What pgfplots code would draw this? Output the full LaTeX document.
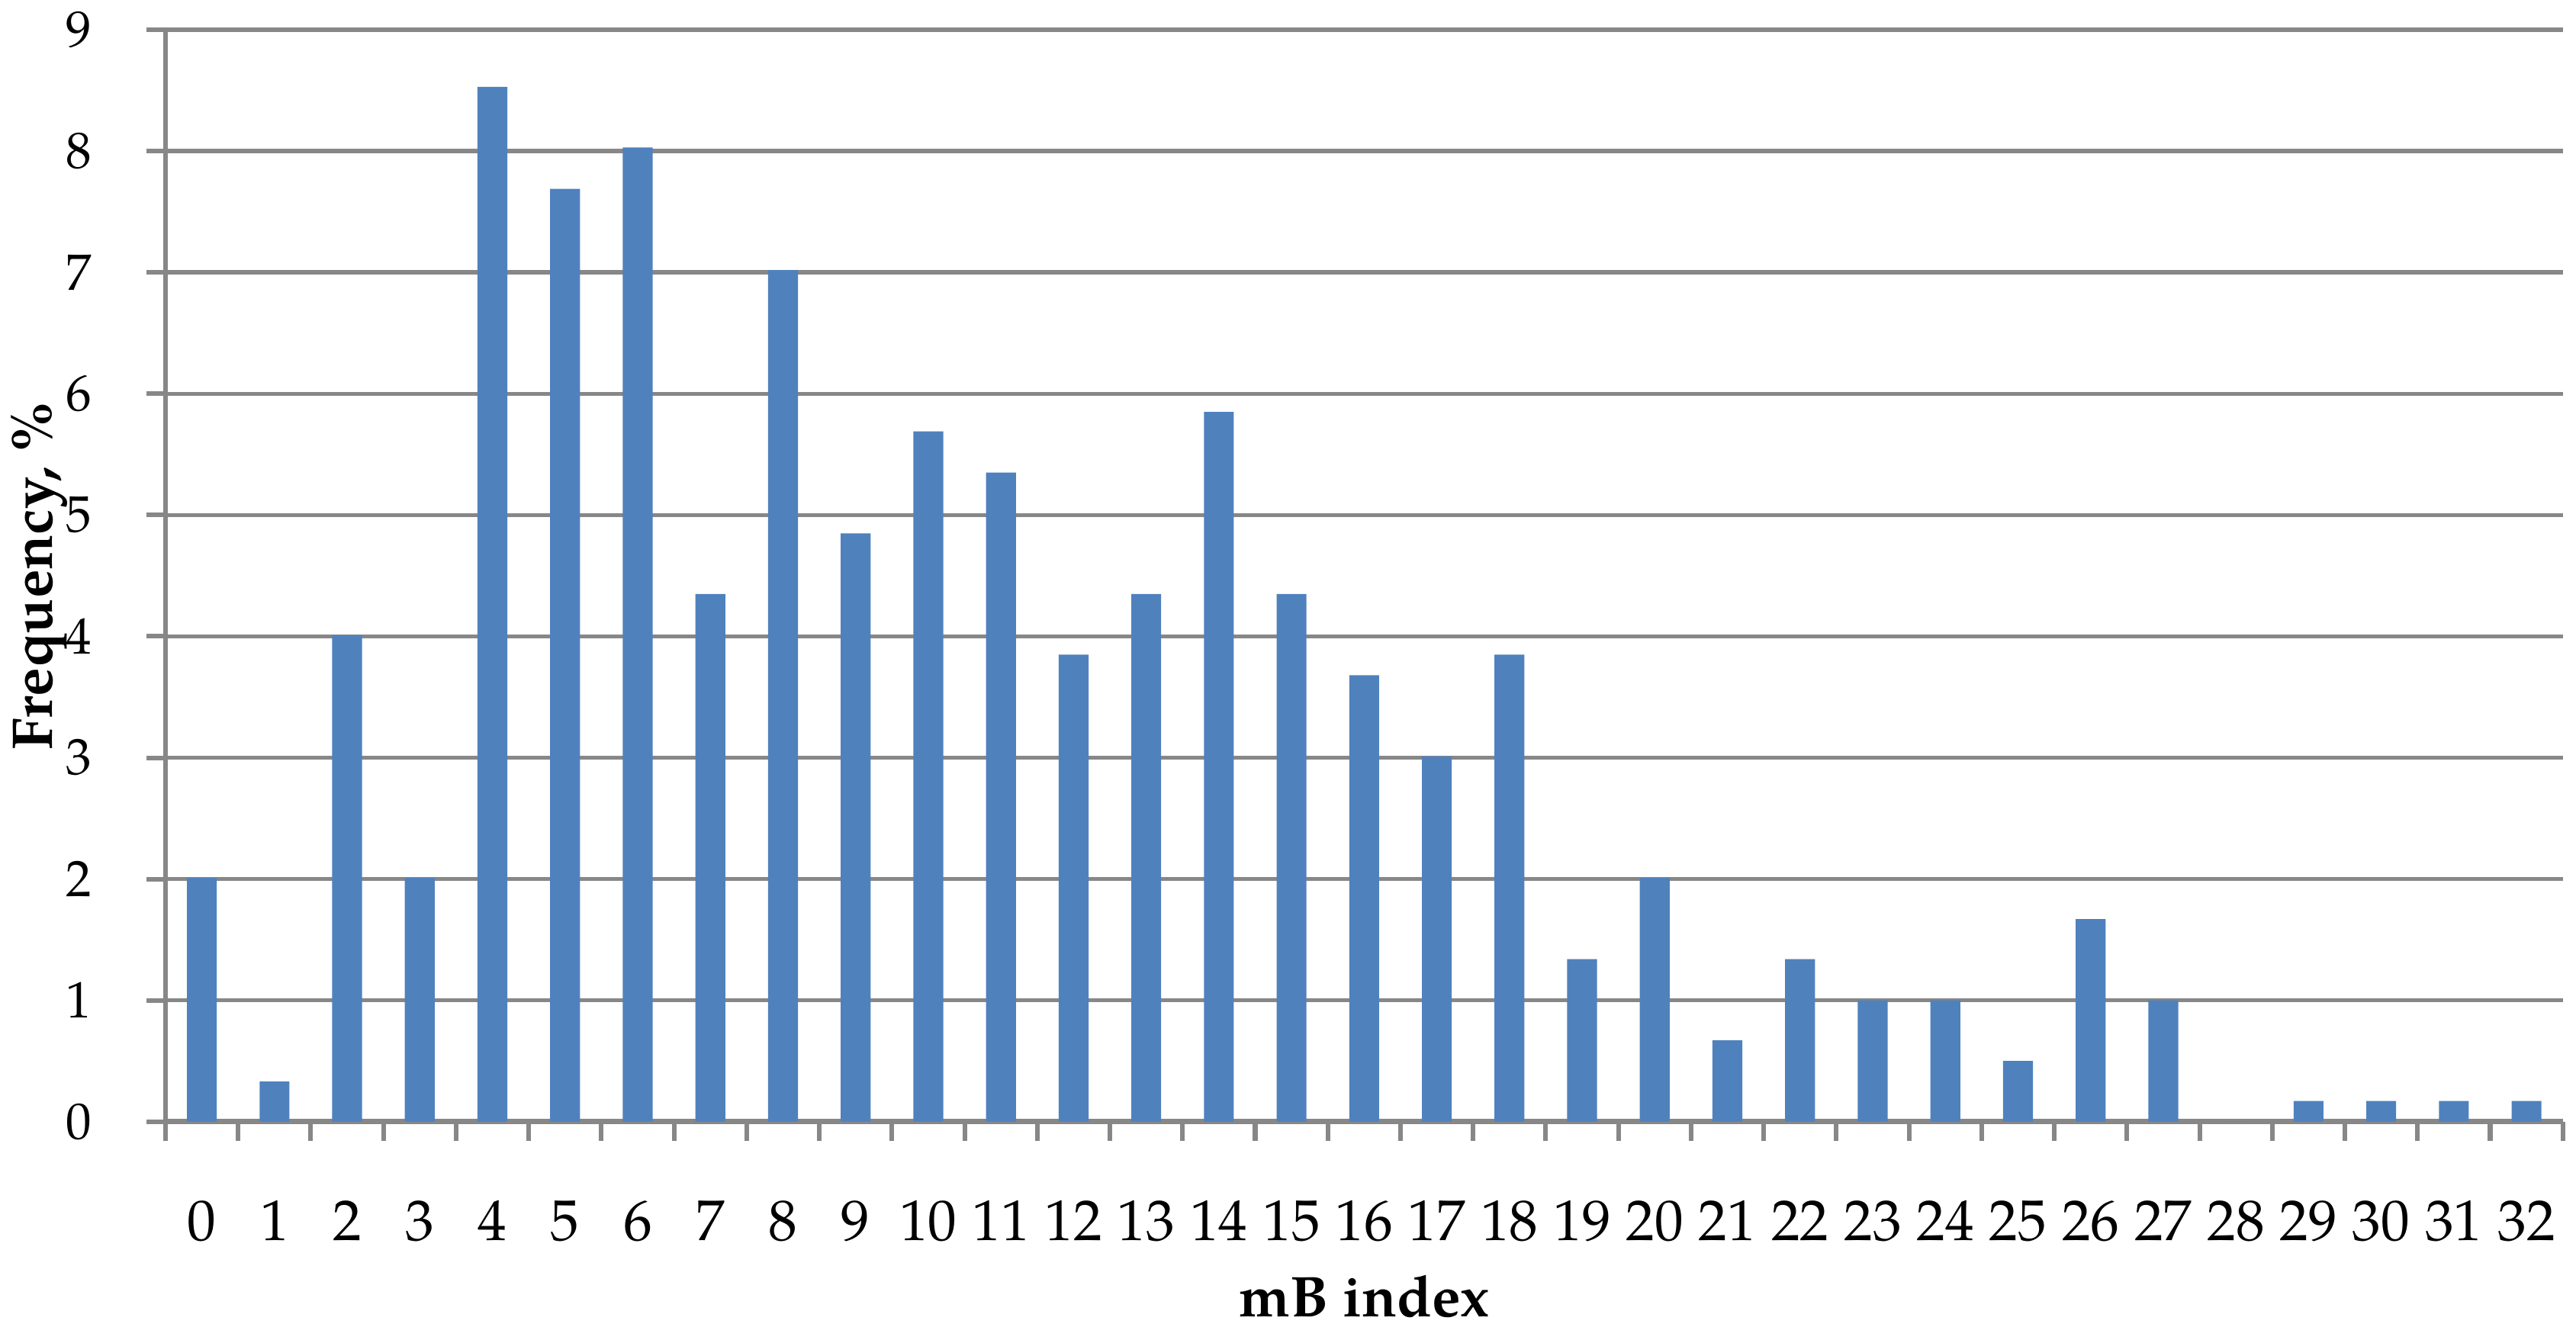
\documentclass[border=0pt]{standalone}
\usepackage{fontspec}
\setmainfont{TeX Gyre Pagella}
\usepackage{pgfplots}
\pgfplotsset{compat=1.18}
\definecolor{barblue}{HTML}{4F81BD}
\definecolor{gridgray}{HTML}{878787}
\begin{document}
\begin{tikzpicture}
\begin{axis}[
  scale only axis,
  width=417.1pt, height=190pt,
  xmin=-0.5, xmax=32.5, ymin=0, ymax=9,
  axis lines*=left,
  axis line style={gridgray, line width=0.9pt},
  xtick={-0.5,0.5,1.5,2.5,3.5,4.5,5.5,6.5,7.5,8.5,9.5,10.5,11.5,12.5,13.5,14.5,15.5,16.5,17.5,18.5,19.5,20.5,21.5,22.5,23.5,24.5,25.5,26.5,27.5,28.5,29.5,30.5,31.5,32.5},
  x tick label as interval,
  xticklabels={0,1,2,3,4,5,6,7,8,9,10,11,12,13,14,15,16,17,18,19,20,21,22,23,24,25,26,27,28,29,30,31,32},
  ytick={0,1,2,3,4,5,6,7,8,9},
  ymajorgrids,
  grid style={gridgray, line width=0.75pt},
  tick align=outside,
  major tick style={gridgray, line width=0.8pt},
  major tick length=3.3pt,
  /pgf/number format/assume math mode=true,
  xticklabel style={font=\fontsize{10}{12}\selectfont, inner sep=0pt, anchor=base, yshift=-17.4pt},
  yticklabel style={font=\fontsize{8.9}{10}\selectfont, inner sep=0pt, anchor=east, xshift=-9.4pt},
  xlabel={\textbf{mB index}},
  ylabel={\textbf{Frequency, \%}},
  xlabel style={font=\fontsize{10}{12}\selectfont, at={(axis description cs:0.5,0)}, anchor=base, yshift=-34pt},
  ylabel style={font=\fontsize{10}{12}\selectfont, at={([xshift=-19.7pt]axis description cs:0,0.5)}, anchor=base},
  ybar, bar width=5.2pt, bar shift=0pt,
  clip=false,
]
\addplot[fill=barblue, draw=none] coordinates {
(0,2.01) (1,0.33) (2,4.01) (3,2.01) (4,8.53) (5,7.69) (6,8.03) (7,4.35)
(8,7.02) (9,4.85) (10,5.69) (11,5.35) (12,3.85) (13,4.35) (14,5.85) (15,4.35)
(16,3.68) (17,3.01) (18,3.85) (19,1.34) (20,2.01) (21,0.67) (22,1.34) (23,1.00)
(24,1.00) (25,0.50) (26,1.67) (27,1.00) (28,0) (29,0.17) (30,0.17) (31,0.17) (32,0.17)
};
\coordinate (ll) at (rel axis cs:0,0);
\coordinate (ur) at (rel axis cs:1,1);
\end{axis}
\pgfresetboundingbox
\path ([shift={(-28.8pt,-35.7pt)}]ll) rectangle ([shift={(2.3pt,5.2pt)}]ur);
\end{tikzpicture}
\end{document}
